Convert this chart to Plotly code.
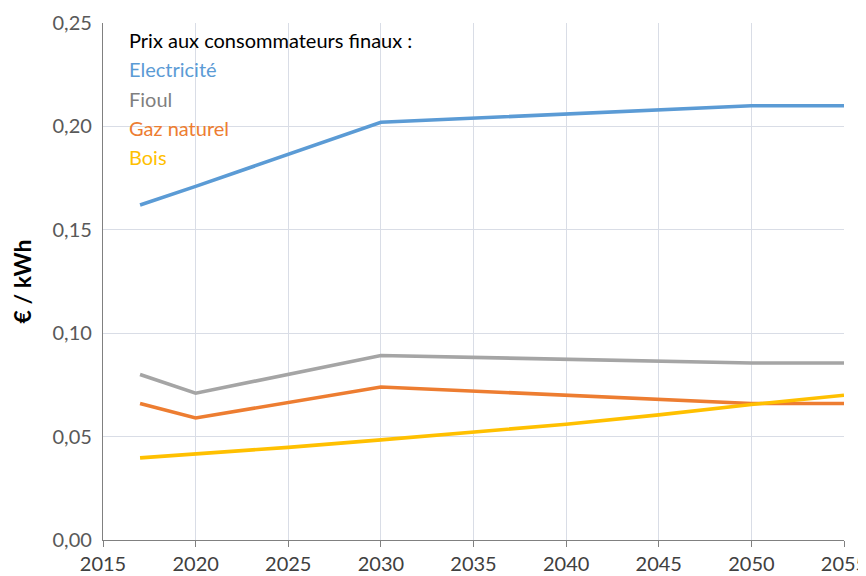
import plotly.graph_objects as go

years_elec = [2017, 2020, 2030, 2040, 2050, 2055]
elec = [0.162, 0.171, 0.202, 0.206, 0.210, 0.210]

years_fioul = [2017, 2020, 2030, 2040, 2050, 2055]
fioul = [0.080, 0.071, 0.0892, 0.0873, 0.0856, 0.0856]

years_gaz = [2017, 2020, 2030, 2040, 2050, 2055]
gaz = [0.066, 0.059, 0.074, 0.070, 0.066, 0.066]

years_bois = [2017, 2020, 2025, 2030, 2035, 2040, 2045, 2050, 2055]
bois = [0.0397, 0.0415, 0.0448, 0.0484, 0.052, 0.056, 0.0605, 0.0655, 0.070]

legend_title = "Prix aux consommateurs finaux :"
names = ["Electricité", "Fioul", "Gaz naturel", "Bois"]
line_colors = ["#5B9BD5", "#A5A5A5", "#ED7D31", "#FFC000"]
text_colors = ["#5B9BD5", "#7F7F7F", "#ED7D31", "#FFC000"]

FONT = "Lato, 'Open Sans', sans-serif"

fig = go.Figure()
for xs, ys, nm, c in [(years_elec, elec, names[0], line_colors[0]),
                      (years_fioul, fioul, names[1], line_colors[1]),
                      (years_gaz, gaz, names[2], line_colors[2]),
                      (years_bois, bois, names[3], line_colors[3])]:
    fig.add_trace(go.Scatter(x=xs, y=ys, mode="lines", name=nm,
                             line=dict(color=c, width=3.6), showlegend=False))

# legend-like labels
fig.add_annotation(x=0.032, y=0.967, xref="paper", yref="paper", text=legend_title,
                   showarrow=False, xanchor="left", yanchor="middle",
                   font=dict(family=FONT, size=20, color="black"))
for i, (nm, tc) in enumerate(zip(names, text_colors)):
    fig.add_annotation(x=0.032, y=0.967 - (i + 1) * 0.0567, xref="paper", yref="paper",
                       text=nm, showarrow=False, xanchor="left", yanchor="middle",
                       font=dict(family=FONT, size=20, color=tc))

fig.update_layout(
    width=866, height=568,
    margin=dict(l=95, r=30, t=15, b=36, autoexpand=False),
    plot_bgcolor="white", paper_bgcolor="white",
    separators=", ",
    font=dict(family=FONT, size=20, color="#595959"),
)
fig.update_xaxes(range=[2015, 2055], dtick=5, tick0=2015, automargin=False,
                 showgrid=True, gridcolor="#D9DDE6", gridwidth=1.3,
                 showline=True, linecolor="#808080", linewidth=1.3,
                 ticks="outside", ticklen=6, tickcolor="#808080",
                 ticklabeloverflow="allow",
                 zeroline=False, tickfont=dict(size=20, color="#404040"))
fig.update_yaxes(range=[0, 0.25], dtick=0.05, tickformat=".2f", automargin=False,
                 showgrid=True, gridcolor="#D9DDE6", gridwidth=1.3,
                 showline=True, linecolor="#808080", linewidth=1.3,
                 zeroline=False, ticks="", ticklabelstandoff=6,
                 tickfont=dict(size=20, color="#595959"),
                 title=dict(text="<b>€ / kWh</b>", font=dict(size=23, color="black"), standoff=14))

fig.write_html("out.html")
